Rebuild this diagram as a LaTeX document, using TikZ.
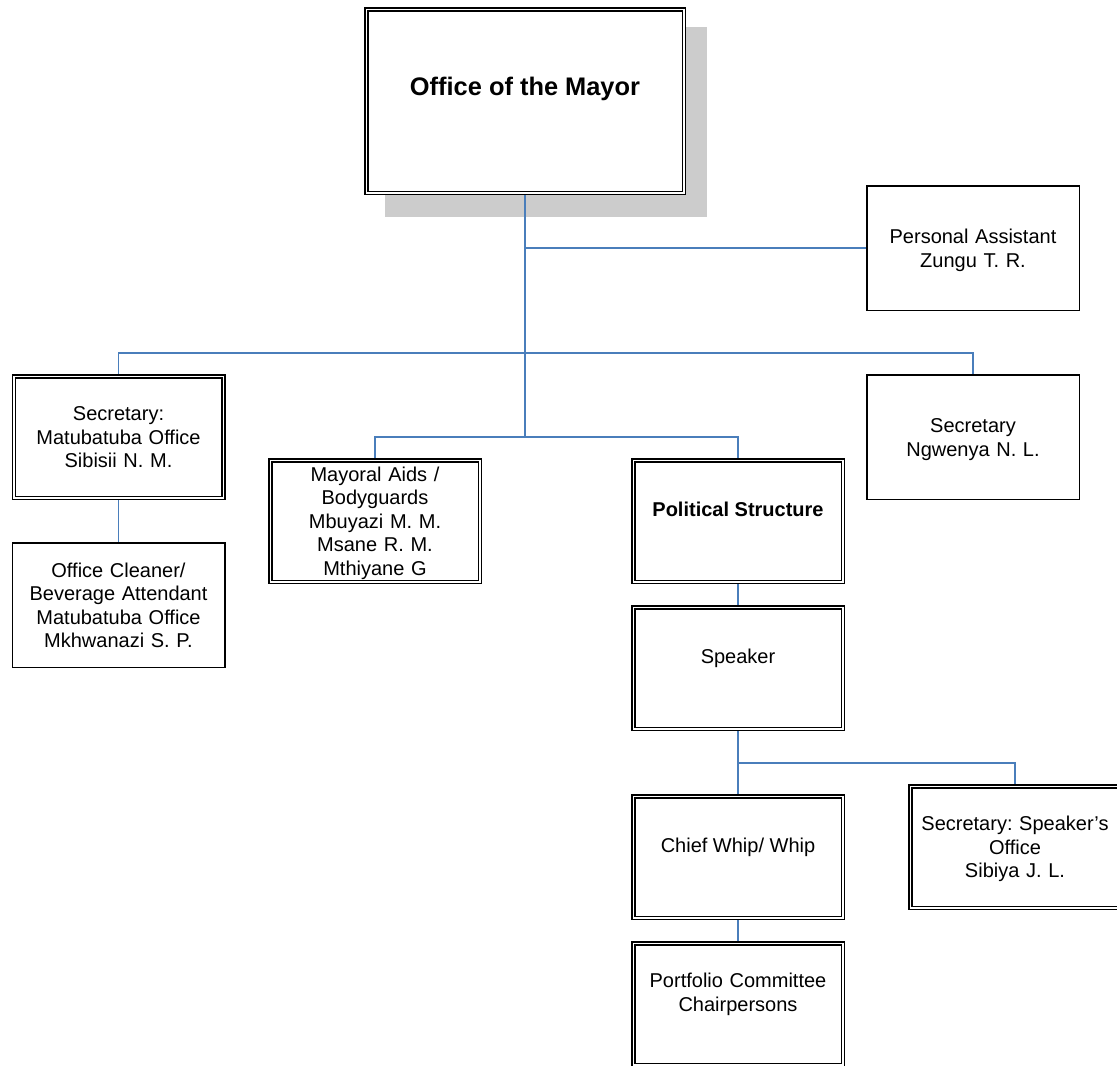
\documentclass[tikz,border=0pt]{standalone}
\usepackage{fontspec}
\setmainfont{Liberation Sans}
\frenchspacing
\usetikzlibrary{backgrounds}
\definecolor{linkblue}{RGB}{74,126,187}
\definecolor{shadowgray}{RGB}{204,204,204}
% line strut that keeps each text line visually centred in its slot
\newcommand\tstrut{\rule[-4.5pt]{0pt}{23.5pt}}
\begin{document}
\begin{tikzpicture}[x=1pt,y=-1pt,
  base/.style={rectangle, fill=white, draw=black, align=center, inner sep=2pt,
    font=\fontsize{20}{23.5}\selectfont},
  single/.style={base, line width=1.5pt, minimum width=212.5pt, minimum height=124.5pt},
  twin/.style={base, line width=1.5pt, double=white, double distance=1.5pt,
    minimum width=209.5pt, minimum height=121.5pt},
  multi/.style={text width=200pt},
  oneline/.style={text height=15pt, text depth=25pt},
  conn/.style={draw=linkblue, line width=1.8pt},
  trunk/.style={conn, line width=2.6pt}]
\useasboundingbox (0,0) rectangle (1117,1066);

% boxes
\node[twin, minimum width=317.5pt, minimum height=183.5pt,
  font=\fontsize{25.4}{30}\selectfont\bfseries, text height=18pt, text depth=30pt]
  (mayor) at (525,101) {Office of the Mayor};
\node[single, multi] (pa) at (973,248) {\tstrut Personal Assistant\\\tstrut Zungu T. R.};
\node[twin, multi] (secm) at (118.5,437)
  {\tstrut Secretary:\\\tstrut Matubatuba Office\\\tstrut Sibisii N. M.};
\node[single, multi] (clean) at (118.5,605)
  {\tstrut Office Cleaner/\\\tstrut Beverage Attendant\\\tstrut Matubatuba Office\\\tstrut Mkhwanazi S. P.};
\node[twin, multi, inner sep=0pt] (aids) at (375,521)
  {\tstrut Mayoral Aids /\\\tstrut Bodyguards\\\tstrut Mbuyazi M. M.\\\tstrut Msane R. M.\\\tstrut Mthiyane G};
\node[twin, oneline, font=\fontsize{20}{23.5}\selectfont\bfseries] (pol) at (738,521) {Political Structure};
\node[single, multi] (secn) at (973,437) {\tstrut Secretary\\\tstrut Ngwenya N. L.};
\node[twin, oneline] (spk) at (738,668) {Speaker};
\node[twin, oneline] (whip) at (738,857) {Chief Whip/ Whip};
\node[twin, multi] (port) at (738,1004)
  {\tstrut Portfolio Committee\\\tstrut Chairpersons\\\tstrut};
\node[twin, multi] (sspk) at (1015,847)
  {\tstrut Secretary: Speaker's\\\tstrut Office\\\tstrut Sibiya J. L.};

% junction points of the connector bars
\coordinate (busB) at (525,353);
\coordinate (busC) at (525,437);
\coordinate (busD) at (738,763);

\begin{scope}[on background layer]
  % drop shadow of the top box
  \fill[shadowgray] (385,27) rectangle (707,217);
  % connectors
  \draw[trunk] (mayor.south) -- (busC);
  \draw[conn] (mayor.south |- pa.west) -- (pa.west);
  \draw[conn] (secm.north) |- (busB) -| (secn.north);
  \draw[conn] (aids.north) |- (busC) -| (pol.north);
  \draw[conn] (secm.south) -- (clean.north);
  \draw[conn] (pol.south) -- (spk.north);
  \draw[conn] (spk.south) -- (whip.north);
  \draw[conn] (busD) -| (sspk.north);
  \draw[conn] (whip.south) -- (port.north);
\end{scope}
\end{tikzpicture}
\end{document}
